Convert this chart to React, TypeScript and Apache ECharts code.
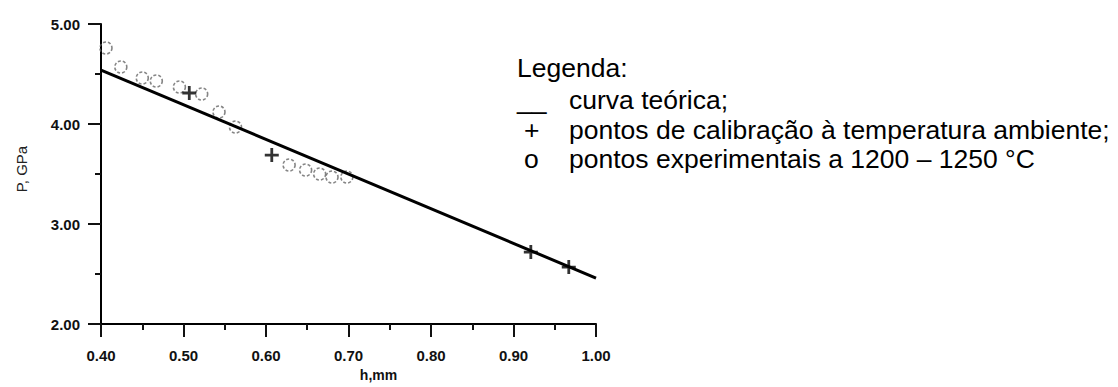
import React, { useEffect, useRef } from "react";
import * as echarts from "echarts";

// Theoretical curve P(h): straight line between its end points
const theoryH = [0.4, 1.0];
const theoryP = [4.54, 2.46];

// Calibration points at room temperature (+)
const calibrationH = [0.507, 0.607, 0.921, 0.967];
const calibrationP = [4.31, 3.69, 2.72, 2.57];

// Experimental points at 1200–1250 °C (o)
const experimentalH = [0.406, 0.424, 0.45, 0.467, 0.495, 0.522, 0.543, 0.563, 0.628, 0.648, 0.665, 0.68, 0.698];
const experimentalP = [4.76, 4.57, 4.46, 4.43, 4.37, 4.3, 4.12, 3.97, 3.59, 3.54, 3.5, 3.47, 3.47];

// Axis ranges
const hRange = [0.4, 1.0];
const pRange = [2, 5];

// Legend block
const legendTitle = "Legenda:";
const legendMarks = ["__", "+", "o"];
const legendTexts = [
  "curva teórica;",
  "pontos de calibração à temperatura ambiente;",
  "pontos experimentais a 1200 – 1250 °C",
];

const FONT = '"Liberation Sans", Arial, Helvetica, sans-serif';

export default function App() {
  const ref = useRef<HTMLDivElement>(null);

  useEffect(() => {
    document.body.style.margin = "0";
    if (!ref.current) return;
    const chart = echarts.init(ref.current, undefined, { renderer: "svg" });

    const legendFont = `26.5px ${FONT}`;
    const markX = 524;
    const textX = 569;
    const rowY = [100, 130, 159];

    const graphics: any[] = [
      {
        type: "text",
        style: { text: legendTitle, x: 517, y: 68, font: legendFont, fill: "#000", verticalAlign: "middle" },
      },
      {
        type: "text",
        style: { text: legendMarks[0], x: 517, y: rowY[0], font: legendFont, fill: "#000", verticalAlign: "middle" },
      },
      {
        type: "text",
        style: { text: legendMarks[1], x: markX, y: rowY[1], font: legendFont, fill: "#000", verticalAlign: "middle" },
      },
      {
        type: "text",
        style: { text: legendMarks[2], x: markX, y: rowY[2], font: legendFont, fill: "#000", verticalAlign: "middle" },
      },
      ...legendTexts.map((t, i) => ({
        type: "text",
        style: { text: t, x: textX, y: rowY[i], font: legendFont, fill: "#000", verticalAlign: "middle" },
      })),
    ];

    const tickLabel = {
      color: "#111",
      fontFamily: FONT,
      fontSize: 15,
      fontWeight: "bold" as const,
    };

    chart.setOption({
      animation: false,
      backgroundColor: "#fff",
      grid: { left: 101, right: 522, top: 24, bottom: 57, containLabel: false },
      xAxis: {
        type: "value",
        min: hRange[0],
        max: hRange[1],
        interval: 0.1,
        name: "h,mm",
        nameLocation: "middle",
        nameGap: 36,
        nameTextStyle: { ...tickLabel, fontSize: 14, padding: [0, 0, 0, 60] },
        axisLine: { show: true, onZero: false, lineStyle: { color: "#000", width: 2 } },
        axisTick: { show: true, inside: false, length: 13, lineStyle: { color: "#111", width: 2 } },
        minorTick: { show: true, splitNumber: 2, length: 6, lineStyle: { color: "#111", width: 2 } },
        axisLabel: { ...tickLabel, margin: 24, formatter: (v: number) => v.toFixed(2) },
        splitLine: { show: false },
        minorSplitLine: { show: false },
      },
      yAxis: {
        type: "value",
        min: pRange[0],
        max: pRange[1],
        interval: 1,
        name: "P, GPa",
        nameLocation: "middle",
        nameRotate: 90,
        nameGap: 72,
        nameTextStyle: { color: "#222", fontFamily: FONT, fontSize: 15, padding: [0, 0, 0, 10] },
        axisLine: { show: true, onZero: false, lineStyle: { color: "#000", width: 2 } },
        axisTick: { show: true, inside: false, length: 13, lineStyle: { color: "#111", width: 2 } },
        minorTick: { show: true, splitNumber: 2, length: 6, lineStyle: { color: "#111", width: 2 } },
        axisLabel: { ...tickLabel, margin: 21, formatter: (v: number) => v.toFixed(2) },
        splitLine: { show: false },
        minorSplitLine: { show: false },
      },
      series: [
        {
          name: "curva teórica",
          type: "line",
          data: theoryH.map((h, i) => [h, theoryP[i]]),
          showSymbol: false,
          symbol: "none",
          lineStyle: { color: "#000", width: 3 },
          z: 3,
        },
        {
          name: "pontos experimentais",
          type: "scatter",
          data: experimentalH.map((h, i) => [h, experimentalP[i]]),
          symbol: "circle",
          symbolSize: 12,
          itemStyle: { color: "rgba(255,255,255,0)", borderColor: "#666", borderWidth: 1.6, borderType: [3, 2] },
          z: 2,
        },
        {
          name: "pontos de calibração",
          type: "scatter",
          data: calibrationH.map((h, i) => [h, calibrationP[i]]),
          symbol: "path://M4,0H6V4H10V6H6V10H4V6H0V4H4Z",
          symbolSize: 14,
          itemStyle: { color: "#000" },
          z: 4,
        },
      ],
      graphic: graphics,
    });

    return () => chart.dispose();
  }, []);

  return <div ref={ref} style={{ width: 1118, height: 387 }} />;
}
